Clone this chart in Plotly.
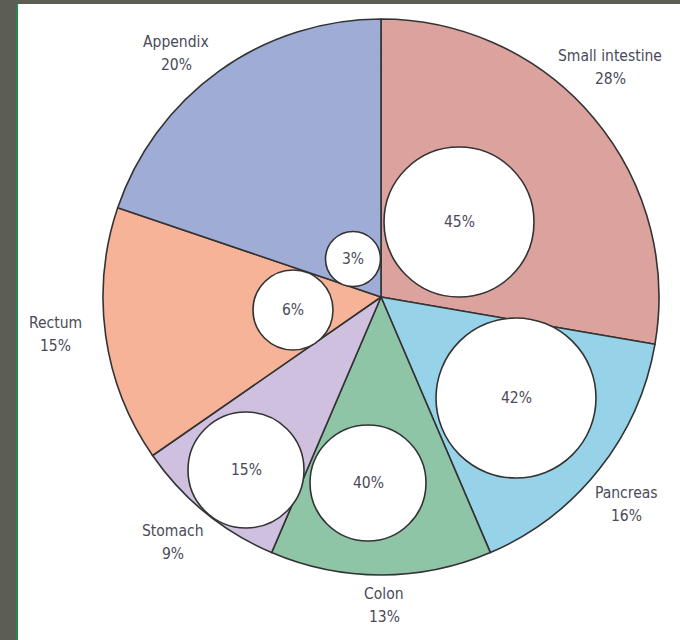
import plotly.graph_objects as go

# ---- data ----
organs = ["Small intestine", "Pancreas", "Colon", "Stomach", "Rectum", "Appendix"]
organ_pct = [28, 16, 13, 9, 15, 20]
inner_pct = [45, 42, 40, 15, 6, 3]

# ---- styling / layout geometry ----
colors = ["#dca29e", "#97d3e8", "#8ec5a7", "#cfc0e0", "#f7b398", "#9eacd6"]
W, H = 680, 640
CX, CY, R = 381, 297, 278
# circle centre (px) and radius (px) for each inner value
circle_geom = [(459, 222, 75), (516, 398, 80), (368, 483, 58),
               (246, 470, 58), (293, 310, 40), (353, 259, 27.5)]
# outer label positions (px): centre of name line; pct line below
label_pos = [(610, 56), (626, 493), (384, 594), (173, 531), (55, 323), (176, 42)]
LINE_GAP = 23

FONT = "DejaVu Sans Condensed, Liberation Sans Narrow, sans-serif"
TXT = "#4a4a5a"
FS = 15.5

fig = go.Figure()

fig.add_trace(go.Pie(
    labels=organs, values=organ_pct, sort=False, direction="clockwise", rotation=0,
    marker=dict(colors=colors, line=dict(color="#333333", width=1.6)),
    textinfo="none", hoverinfo="skip", showlegend=False,
    domain=dict(x=[(CX - R) / W, (CX + R) / W],
                y=[(H - CY - R) / H, (H - CY + R) / H]),
))

# invisible trace to establish cartesian axes for circles & texts
fig.add_trace(go.Scatter(
    x=[g[0] for g in circle_geom], y=[g[1] for g in circle_geom],
    mode="markers", marker=dict(opacity=0),
    hoverinfo="skip", showlegend=False,
))

shapes = [
    dict(type="rect", xref="x", yref="y", x0=18, x1=W, y0=4, y1=H,
         fillcolor="white", line=dict(width=0), layer="below"),
    dict(type="rect", xref="x", yref="y", x0=16, x1=18, y0=4, y1=H,
         fillcolor="#1f8a4c", line=dict(width=0), layer="below"),
]
for (x, y, r) in circle_geom:
    shapes.append(dict(type="circle", xref="x", yref="y",
                       x0=x - r, x1=x + r, y0=y - r, y1=y + r,
                       fillcolor="white", line=dict(color="#333333", width=1.6),
                       layer="above"))

annotations = []
for name, pct, (x, y) in zip(organs, organ_pct, label_pos):
    annotations.append(dict(x=x, y=y, xref="x", yref="y", showarrow=False,
                            text=name, font=dict(family=FONT, size=FS, color=TXT)))
    annotations.append(dict(x=x, y=y + LINE_GAP, xref="x", yref="y", showarrow=False,
                            text=f"{pct}%", font=dict(family=FONT, size=FS, color=TXT)))
for v, (x, y, r) in zip(inner_pct, circle_geom):
    annotations.append(dict(x=x, y=y, xref="x", yref="y", showarrow=False,
                            text=f"{v}%", font=dict(family=FONT, size=FS, color=TXT)))

fig.update_layout(
    width=W, height=H, margin=dict(l=0, r=0, t=0, b=0),
    paper_bgcolor="#5c5e56", plot_bgcolor="rgba(0,0,0,0)",
    xaxis=dict(range=[0, W], visible=False, fixedrange=True),
    yaxis=dict(range=[H, 0], visible=False, fixedrange=True),
    shapes=shapes, annotations=annotations,
)

fig.write_html("out.html", config={"displayModeBar": False},
               post_script="document.body.style.margin='0px';")
